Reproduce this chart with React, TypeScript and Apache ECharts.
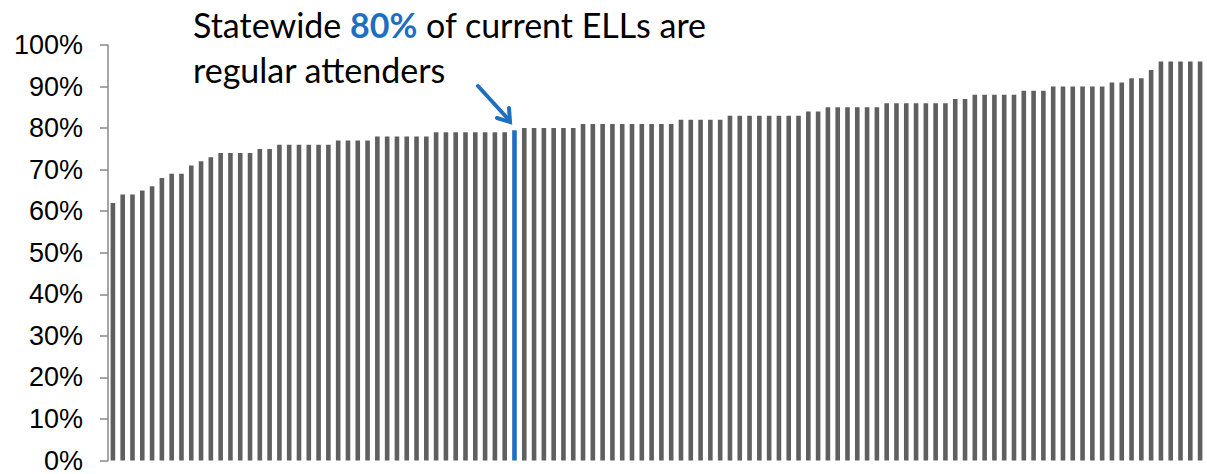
import React, { useEffect, useRef } from "react";
import * as echarts from "echarts";

// Share of current ELLs who are regular attenders, one bar per district, sorted
const attendance: number[] = [
  62, 64, 64, 65, 66, 68, 69, 69, 71, 72, 73,
  74, 74, 74, 74, 75, 75,
  76, 76, 76, 76, 76, 76,
  77, 77, 77, 77,
  78, 78, 78, 78, 78, 78,
  79, 79, 79, 79, 79, 79, 79, 79,
  79.5,
  80, 80, 80, 80, 80, 80,
  81, 81, 81, 81, 81, 81, 81, 81, 81, 81,
  82, 82, 82, 82, 82,
  83, 83, 83, 83, 83, 83, 83, 83,
  84, 84,
  85, 85, 85, 85, 85, 85,
  86, 86, 86, 86, 86, 86, 86,
  87, 87,
  88, 88, 88, 88, 88,
  89, 89, 89,
  90, 90, 90, 90, 90, 90,
  91, 91,
  92, 92,
  94,
  96, 96, 96, 96, 96,
];
const statewideIndex = 41; // the statewide bar (80%)
const districts: string[] = attendance.map((_, i) => `District ${i + 1}`);
const yTicks = { min: 0, max: 100, interval: 10 };

const GREY = "#5f5f5f";
const BLUE = "#1f6fc0";

export default function App() {
  const ref = useRef<HTMLDivElement>(null);
  useEffect(() => {
    if (!ref.current) return;
    const chart = echarts.init(ref.current, null, { renderer: "svg" });
    chart.setOption({
      animation: false,
      grid: { left: 108, right: 2, top: 45, bottom: 10, containLabel: false },
      xAxis: {
        type: "category",
        data: districts,
        boundaryGap: true,
        axisLine: { show: false },
        axisTick: { show: false },
        axisLabel: { show: false },
        splitLine: { show: false },
      },
      yAxis: {
        type: "value",
        min: yTicks.min,
        max: yTicks.max,
        interval: yTicks.interval,
        axisLine: { show: true, lineStyle: { color: "#888888", width: 1.5 } },
        axisTick: { show: true, inside: false, length: 8, lineStyle: { color: "#888888", width: 1.5 } },
        axisLabel: {
          formatter: "{value}%",
          color: "#000000",
          fontFamily: "Liberation Sans, Arial, sans-serif",
          fontSize: 27,
          margin: 25,
        },
        splitLine: { show: false },
      },
      series: [
        {
          type: "bar",
          data: attendance.map((v, i) =>
            i === statewideIndex
              ? { value: v, itemStyle: { color: BLUE } }
              : { value: v }
          ),
          barWidth: 4.6,
          itemStyle: { color: GREY },
        },
      ],
      graphic: [
        {
          type: "text",
          left: 193,
          top: 2,
          style: {
            text: "Statewide {b|80%} of current ELLs are\nregular attenders",
            fontFamily: "Lato, 'Open Sans', sans-serif",
            fontSize: 34,
            lineHeight: 45,
            fill: "#000000",
            rich: {
              b: {
                fontFamily: "Lato, 'Open Sans', sans-serif",
                fontSize: 34,
                fontWeight: "bold",
                fill: BLUE,
                lineHeight: 45,
              },
            },
          },
        },
        {
          type: "line",
          shape: { x1: 478, y1: 86, x2: 509, y2: 120 },
          style: { stroke: BLUE, lineWidth: 4, lineCap: "round" },
        },
        {
          type: "polyline",
          shape: { points: [[497, 118], [510, 122], [509, 108]] },
          style: { stroke: BLUE, lineWidth: 4, fill: "none", lineJoin: "miter", lineCap: "round" },
        },
      ],
    });
    return () => chart.dispose();
  }, []);
  return (
    <div
      ref={ref}
      style={{ position: "fixed", left: 0, top: 0, width: 1207, height: 474, background: "#ffffff" }}
    />
  );
}
